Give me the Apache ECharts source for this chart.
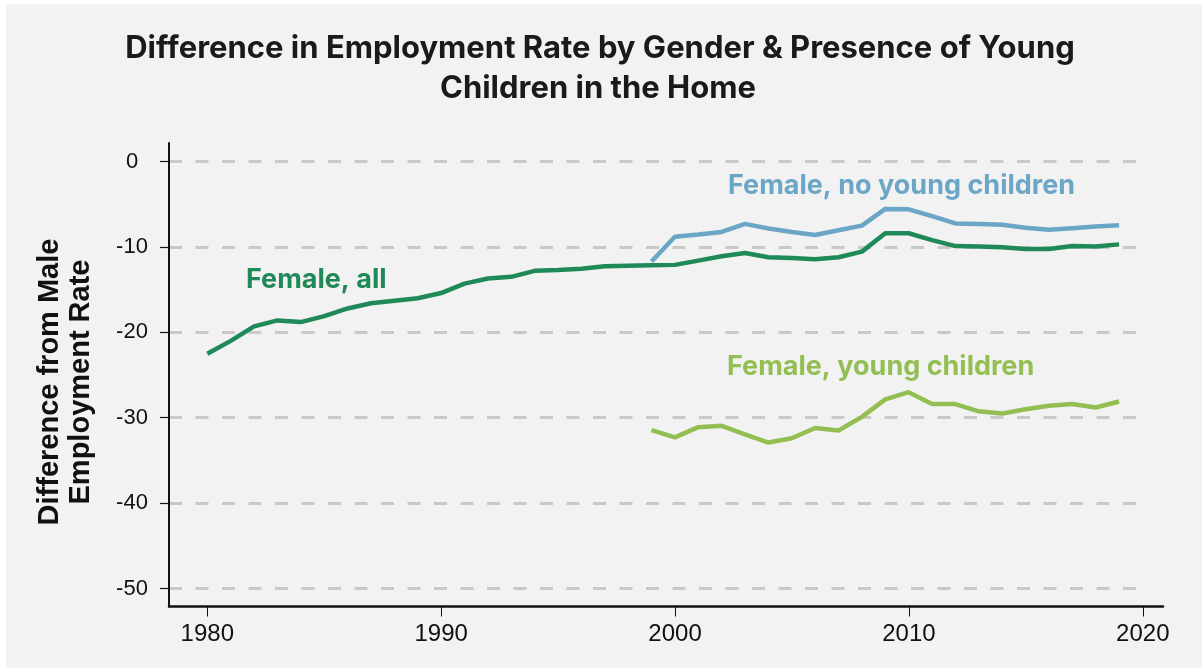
<!DOCTYPE html>
<html>
<head>
<meta charset="utf-8">
<script src="https://cdn.jsdelivr.net/npm/echarts@6/dist/echarts.min.js"></script>
<style>
  html, body { margin: 0; padding: 0; background: #fff; }
  #chart { width: 1202px; height: 668px; }
</style>
</head>
<body>
<div id="chart"></div>
<script>
const years = [
  1980, 1981, 1982, 1983, 1984, 1985, 1986, 1987, 1988, 1989,
  1990, 1991, 1992, 1993, 1994, 1995, 1996, 1997, 1998, 1999,
  2000, 2001, 2002, 2003, 2004, 2005, 2006, 2007, 2008, 2009,
  2010, 2011, 2012, 2013, 2014, 2015, 2016, 2017, 2018, 2019
]
const femaleAll = [
  -22.5, -21.0, -19.3, -18.6, -18.8, -18.1, -17.2, -16.6, -16.3, -16.0,
  -15.4, -14.3, -13.7, -13.5, -12.8, -12.7, -12.55, -12.25, -12.2, -12.15,
  -12.1, -11.6, -11.1, -10.7, -11.2, -11.3, -11.45, -11.2, -10.55, -8.4,
  -8.4, -9.2, -9.9, -9.95, -10.05, -10.25, -10.25, -9.9, -9.95, -9.7
]
// the two split series start in 1999
const splitYears = years.slice(19)
const femaleNoYoung = [
  -11.7, -8.8, -8.55, -8.25, -7.3, -7.85, -8.25, -8.6, -8.05, -7.5,
  -5.55, -5.6, -6.4, -7.25, -7.3, -7.4, -7.75, -8.0, -7.8, -7.6, -7.45
]
const femaleYoung = [
  -31.45, -32.3, -31.1, -30.95, -31.95, -32.9, -32.4, -31.2, -31.5, -29.9,
  -27.85, -27.0, -28.4, -28.4, -29.25, -29.5, -29.0, -28.6, -28.4, -28.8, -28.1
]
const seriesNames = ['Female, all', 'Female, no young children', 'Female, young children']
const xTickLabels = ['1980', '1990', '2000', '2010', '2020']
const yTickLabels = ['-50', '-40', '-30', '-20', '-10', '0']
const titleLines = ['Difference in Employment Rate by Gender & Presence of Young', 'Children in the Home']

const colors = ['#1f8a58', '#6ba6c6', '#93bf52']
const tickFont = "'Liberation Sans', Arial, sans-serif"
const boldFont = "Inter, 'Noto Sans', sans-serif"

const chart = echarts.init(document.getElementById('chart'))

const pairs = (xs, vs) => vs.map((v, i) => [xs[i], v])

const labelText = (text, x, y, color) => ({
  type: 'text', x, y,
  style: {
    text, fontFamily: boldFont, fontWeight: 700, fontSize: 27,
    fill: color, textAlign: 'left', textVerticalAlign: 'middle'
  }
})

const option = {
  backgroundColor: '#f2f2f2',
  animation: false,
  grid: [
    // main plot area: data and axis lines
    { left: 169, right: 39, top: 143, bottom: 61.5 },
    // y ticks, labels and dashed grid lines
    { left: 169, right: 53, top: 161.5, bottom: 79.5 },
    // x ticks and labels
    { left: 207.3, right: 59.2, top: 143, bottom: 61.5 }
  ],
  xAxis: [
    {
      type: 'value', gridIndex: 0, min: 1978.36, max: 2020.88,
      axisLine: { show: true, onZero: false, lineStyle: { color: '#111', width: 2.5 } },
      axisTick: { show: false }, axisLabel: { show: false }, splitLine: { show: false }
    },
    { type: 'value', gridIndex: 1, min: 0, max: 1, show: false },
    {
      type: 'value', gridIndex: 2, min: 1980, max: 2020, interval: 10,
      axisLine: { show: false, onZero: false },
      axisTick: { show: true, length: 10, lineStyle: { color: '#111', width: 1 } },
      axisLabel: {
        margin: 16,
        fontFamily: tickFont, fontSize: 24, color: '#111',
        formatter: v => xTickLabels[(v - 1980) / 10] || ''
      },
      splitLine: { show: false }
    }
  ],
  yAxis: [
    {
      type: 'value', gridIndex: 0, min: -52.1, max: 2.17,
      axisLine: { show: true, onZero: false, lineStyle: { color: '#111', width: 2 } },
      axisTick: { show: false }, axisLabel: { show: false }, splitLine: { show: false }
    },
    {
      type: 'value', gridIndex: 1, min: -50, max: 0, interval: 10,
      axisLine: { show: false, onZero: false },
      axisTick: { show: true, length: 9, lineStyle: { color: '#111', width: 1.2 } },
      axisLabel: {
        margin: 37, align: 'center',
        fontFamily: tickFont, fontSize: 22, color: '#111',
        formatter: v => yTickLabels[(v + 50) / 10] || ''
      },
      splitLine: {
        show: true,
        lineStyle: { color: '#c9c9c9', width: 3, type: [13, 13.5] }
      }
    },
    { type: 'value', gridIndex: 2, min: 0, max: 1, show: false }
  ],
  series: [
    {
      name: seriesNames[1], type: 'line', xAxisIndex: 0, yAxisIndex: 0,
      data: pairs(splitYears, femaleNoYoung),
      symbol: 'none', lineStyle: { color: colors[1], width: 4.5 }
    },
    {
      name: seriesNames[0], type: 'line', xAxisIndex: 0, yAxisIndex: 0,
      data: pairs(years, femaleAll),
      symbol: 'none', lineStyle: { color: colors[0], width: 4.5 }
    },
    {
      name: seriesNames[2], type: 'line', xAxisIndex: 0, yAxisIndex: 0,
      data: pairs(splitYears, femaleYoung),
      symbol: 'none', lineStyle: { color: colors[2], width: 4.5 }
    }
  ],
  graphic: [
    // white strips at the top and left edge of the picture
    { type: 'rect', left: 0, top: 0, shape: { width: 1202, height: 4 }, style: { fill: '#fff' } },
    { type: 'rect', left: 0, top: 0, shape: { width: 6, height: 668 }, style: { fill: '#fff' } },
    {
      type: 'text', x: 600, y: 49,
      style: {
        text: titleLines[0], fontFamily: boldFont, fontWeight: 700, fontSize: 31,
        fill: '#1a1a1a', textAlign: 'center', textVerticalAlign: 'middle'
      }
    },
    {
      type: 'text', x: 598, y: 88.5,
      style: {
        text: titleLines[1], fontFamily: boldFont, fontWeight: 700, fontSize: 31,
        fill: '#1a1a1a', textAlign: 'center', textVerticalAlign: 'middle'
      }
    },
    {
      type: 'text', x: 65, y: 382, rotation: Math.PI / 2,
      style: {
        text: 'Difference from Male\nEmployment Rate',
        fontFamily: tickFont,
        fontWeight: 'bold', fontSize: 29, lineHeight: 31,
        fill: '#111', textAlign: 'center', textVerticalAlign: 'middle'
      }
    },
    labelText(seriesNames[0], 246, 280, colors[0]),
    labelText(seriesNames[1], 728, 186, colors[1]),
    labelText(seriesNames[2], 727, 366.5, colors[2])
  ]
}

chart.setOption(option)
</script>
</body>
</html>
